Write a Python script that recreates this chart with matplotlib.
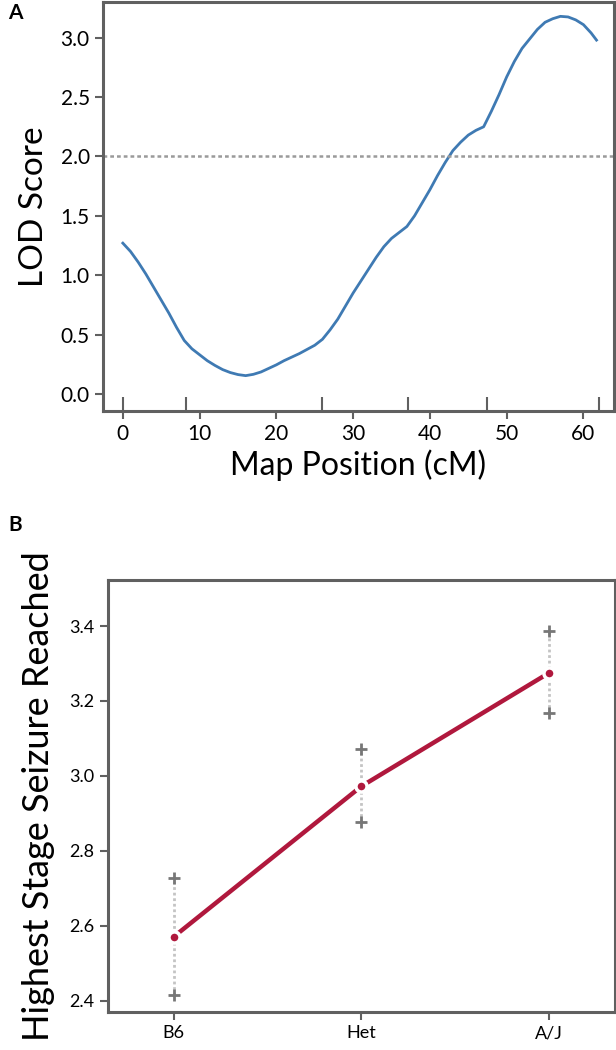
import matplotlib.pyplot as plt
import numpy as np

plt.rcParams['font.family'] = ['Lato', 'DejaVu Sans']

# panel A: LOD curve (every 1 cM)
map_cm = [0, 1, 2, 3, 4, 5, 6, 7, 8, 9, 10, 11, 12, 13, 14, 15, 16, 17, 18, 19, 20,
          21, 22, 23, 24, 25, 26, 27, 28, 29, 30, 31, 32, 33, 34, 35, 36, 37, 38, 39,
          40, 41, 42, 43, 44, 45, 46, 47, 48, 49, 50, 51, 52, 53, 54, 55, 56, 57, 58,
          59, 60, 61, 61.7]
lod = [1.27, 1.20, 1.11, 1.01, 0.90, 0.79, 0.68, 0.56, 0.45, 0.38, 0.33, 0.28, 0.24,
       0.205, 0.18, 0.163, 0.154, 0.165, 0.185, 0.215, 0.245, 0.28, 0.31, 0.34, 0.375,
       0.41, 0.46, 0.54, 0.63, 0.74, 0.85, 0.95, 1.05, 1.15, 1.24, 1.31, 1.36, 1.41,
       1.50, 1.61, 1.72, 1.84, 1.95, 2.05, 2.12, 2.18, 2.22, 2.25, 2.38, 2.52, 2.67,
       2.80, 2.91, 2.99, 3.07, 3.13, 3.16, 3.18, 3.175, 3.15, 3.11, 3.04, 2.98]
marker_cm = [0, 8.2, 26, 37.2, 47.4, 62]
threshold = 2.0

# panel B: genotype means with upper / lower bounds
genotypes = ["B6", "Het", "A/J"]
means = [2.570, 2.972, 3.275]
upper = [2.728, 3.071, 3.386]
lower = [2.416, 2.877, 3.169]

blue = "#3f7ab3"
red = "#b0183d"
spine_col = "#606060"

fig = plt.figure(figsize=(6.16, 10.5), dpi=100)

# ---- panel A
ax = fig.add_axes([0.167, 0.609, 0.830, 0.389])
ax.plot(map_cm, lod, color=blue, lw=2, solid_joinstyle="round")
ax.axhline(threshold, color="#9a9a9a", lw=1.8, ls=(0, (1.5, 1.2)))
ax.set_xlim(-2.6, 64)
ax.set_ylim(-0.14, 3.30)
ax.set_xticks([0, 10, 20, 30, 40, 50, 60])
ax.set_yticks([0, 0.5, 1.0, 1.5, 2.0, 2.5, 3.0])
ax.set_yticklabels(["0.0", "0.5", "1.0", "1.5", "2.0", "2.5", "3.0"])
ax.set_xticks(marker_cm, minor=True)
ax.xaxis.remove_overlapping_locs = False
ax.tick_params(axis="both", which="major", labelsize=15, color=spine_col, width=1.5, length=6)
ax.tick_params(axis="x", which="minor", direction="in", length=10, width=1.5, color=spine_col)
ax.set_xlabel("Map Position (cM)", fontsize=23, labelpad=4)
ax.set_ylabel("LOD Score", fontsize=24, labelpad=8)
for s in ax.spines.values():
    s.set_color(spine_col)
    s.set_linewidth(2.2)

# ---- panel B
bx = fig.add_axes([0.175, 0.036, 0.823, 0.412])
xpos = np.arange(len(genotypes))
for i in range(len(genotypes)):
    bx.plot([xpos[i], xpos[i]], [lower[i], upper[i]], color="#c4c4c4", lw=2, ls=(0, (1, 1)))
bx.plot(xpos, upper, ls="none", marker="+", ms=8, mew=2, color="#777777")
bx.plot(xpos, lower, ls="none", marker="+", ms=8, mew=2, color="#777777")
bx.plot(xpos, means, color=red, lw=3.2, marker="o", ms=8, mfc=red, mec="white", mew=2.5)
bx.set_xlim(-0.35, 2.35)
bx.set_ylim(2.369, 3.524)
bx.set_xticks(xpos)
bx.set_xticklabels(genotypes)
bx.set_yticks([2.4, 2.6, 2.8, 3.0, 3.2, 3.4])
bx.tick_params(axis="both", labelsize=13, color=spine_col, width=1.5, length=6)
bx.set_ylabel("Highest Stage Seizure Reached", fontsize=26, labelpad=10)
for s in bx.spines.values():
    s.set_color(spine_col)
    s.set_linewidth(2.2)

fig.text(0.013, 0.988, "A", fontsize=15, fontweight="bold", va="center")
fig.text(0.013, 0.500, "B", fontsize=15, fontweight="bold", va="center")

fig.savefig("out.png", dpi=100)
